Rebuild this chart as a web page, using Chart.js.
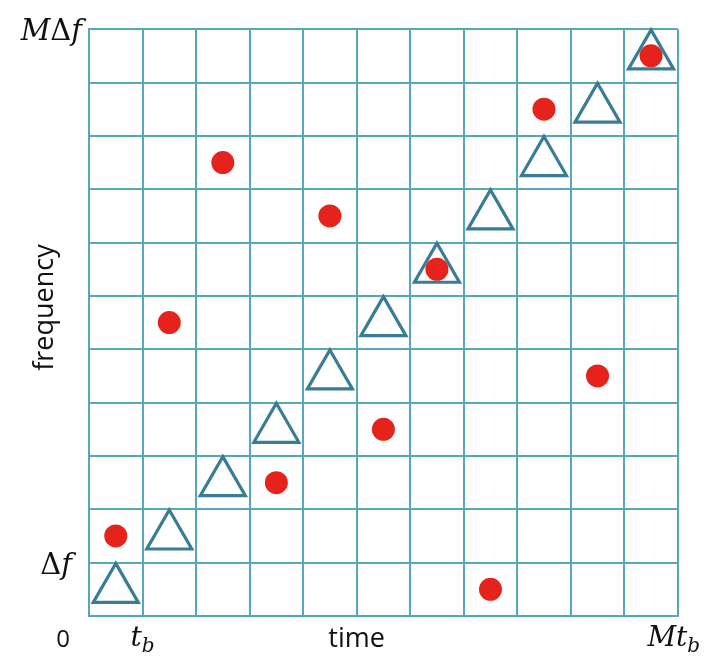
<!DOCTYPE html>
<html>
<head>
<meta charset="utf-8">
<script src="https://cdn.jsdelivr.net/npm/chart.js@4.4.1/dist/chart.umd.min.js"></script>
<style>
  body { margin: 0; background: #fff; }
  canvas { display: block; }
</style>
</head>
<body>
<canvas id="costas" width="707" height="663"></canvas>
<script>
// grid is M x M cells, time slots along x, frequency slots along y
const gridSize = 11;

// diagonal pattern (triangles), cell centres
const triangleX = [0.5, 1.5, 2.5, 3.5, 4.5, 5.5, 6.5, 7.5, 8.5, 9.5, 10.5];
const triangleY = [0.5, 1.5, 2.5, 3.5, 4.5, 5.5, 6.5, 7.5, 8.5, 9.5, 10.5];

// hopping pattern (red dots)
const dotX = [0.5, 1.5, 2.5, 3.5, 4.5, 5.5, 6.5, 7.5, 8.5, 9.5, 10.5];
const dotY = [1.5, 5.5, 8.5, 2.5, 7.5, 3.5, 6.5, 0.5, 9.5, 4.5, 10.5];

// tick labels (math style, drawn by the plugin below)
const xTickValues = [1, 11];
const xTickLabels = [["t", "b"], ["Mt", "b"]];
const yTickValues = [1, 11];
const yTickLabels = ["\u0394f", "M\u0394f"];
const xTitle = "time";
const yTitle = "frequency";

function toPoints(xs, ys) {
    return xs.map((x, i) => ({x: x, y: ys[i]}));
}

const gridColor = "#56a7ba";
const serif = "DejaVu Serif";
const sans = "Open Sans";

function drawMath(ctx, segments, x, y, align) {
    // segments: [text, font, dy]
    let total = 0;
    segments.forEach((s) => {
        ctx.font = s[1];
        total += ctx.measureText(s[0]).width;
    });
    let cx = x;
    if (align == "right") cx = x - total;
    if (align == "center") cx = x - total / 2;
    ctx.textAlign = "left";
    segments.forEach((s) => {
        ctx.font = s[1];
        ctx.fillText(s[0], cx, y + s[2]);
        cx += ctx.measureText(s[0]).width;
    });
}

const labelPlugin = {
    id: "labels",
    afterDraw(chart) {
        const ctx = chart.ctx;
        const xs = chart.scales.x;
        const ys = chart.scales.y;
        ctx.save();
        ctx.fillStyle = "#111";
        ctx.textBaseline = "alphabetic";

        // y ticks: M, f italic, Delta upright
        yTickLabels.forEach((lab, i) => {
            const py = ys.getPixelForValue(yTickValues[i]) + 11;
            const segs = [];
            for (const ch of lab) {
                if (ch == "\u0394") segs.push([ch, "29px " + serif, 0]);
                else segs.push([ch, "italic 29px " + serif, 0]);
            }
            drawMath(ctx, segs, i == 1 ? 82 : 72, py, "right");
        });

        // x ticks with subscript b
        xTickLabels.forEach((lab, i) => {
            const px = xs.getPixelForValue(xTickValues[i]);
            const segs = [[lab[0], "italic 28px " + serif, 0], [lab[1], "italic 20px " + serif, 6]];
            drawMath(ctx, segs, i == 1 ? px - 4 : px, 646, "center");
        });

        // origin
        ctx.font = "24px " + sans;
        ctx.textAlign = "center";
        ctx.fillText("0", 63, 647);

        // axis titles
        ctx.font = "27px " + sans;
        ctx.fillText(xTitle, xs.getPixelForValue(5), 647);
        ctx.save();
        ctx.translate(53, (ys.top + ys.bottom) / 2 - 15);
        ctx.rotate(-Math.PI / 2);
        ctx.fillText(yTitle, 0, 0);
        ctx.restore();
        ctx.restore();
    }
};

const axisStyle = {
    type: "linear",
    min: 0,
    max: gridSize,
    ticks: {stepSize: 1, display: false},
    grid: {color: gridColor, lineWidth: 2, drawTicks: false},
    border: {color: gridColor, width: 2}
};

new Chart(document.getElementById("costas"), {
    type: "scatter",
    data: {
        datasets: [
            {
                label: "diagonal",
                data: toPoints(triangleX, triangleY),
                pointStyle: "triangle",
                pointRadius: 26,
                pointHoverRadius: 26,
                borderColor: "#3a7c93",
                borderWidth: 3.2,
                backgroundColor: "rgba(0,0,0,0)"
            },
            {
                label: "hopping",
                data: toPoints(dotX, dotY),
                pointStyle: "circle",
                pointRadius: 11.5,
                pointHoverRadius: 11.5,
                borderWidth: 0,
                backgroundColor: "#e5221b"
            }
        ]
    },
    options: {
        responsive: false,
        animation: false,
        clip: false,
        layout: {padding: {top: 22, right: 21, left: 0, bottom: 0}},
        plugins: {legend: {display: false}, tooltip: {enabled: false}},
        scales: {
            x: Object.assign({}, axisStyle, {
                afterFit(scale) { scale.height = 47; }
            }),
            y: Object.assign({}, axisStyle, {
                afterFit(scale) { scale.width = 89; }
            })
        }
    },
    plugins: [labelPlugin]
});
</script>
</body>
</html>
